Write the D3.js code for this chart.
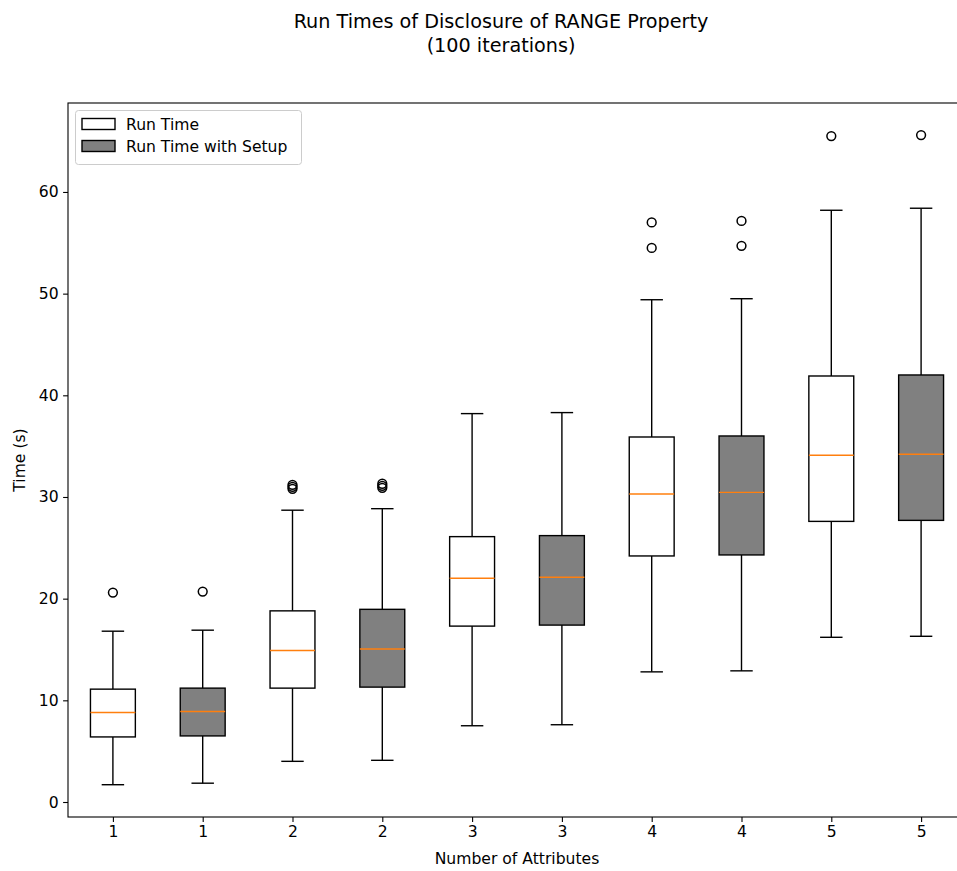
<!DOCTYPE html>
<html>
<head>
<meta charset="utf-8">
<script src="https://cdn.jsdelivr.net/npm/d3@7"></script>
<style>
  html, body { margin: 0; padding: 0; background: #fff; }
  svg { display: block; font-family: "DejaVu Sans", sans-serif; }
</style>
</head>
<body>
<svg id="chart" width="957" height="871"></svg>
<script>
// ---- data ----
const tickLabels = ["1", "1", "2", "2", "3", "3", "4", "4", "5", "5"];
const attributes = [1, 2, 3, 4, 5];

// Run Time (white boxes)
const rtLow      = [1.7, 4.0, 7.5, 12.8, 16.2];
const rtQ1       = [6.4, 11.2, 17.3, 24.2, 27.6];
const rtMedian   = [8.8, 14.9, 22.0, 30.3, 34.1];
const rtQ3       = [11.1, 18.8, 26.1, 35.9, 41.9];
const rtHigh     = [16.8, 28.7, 38.2, 49.4, 58.2];
const rtOutliers = [[20.6], [30.8, 31.0, 31.2], [], [54.5, 57.0], [65.5]];

// Run Time with Setup (gray boxes)
const suLow      = [1.85, 4.1, 7.6, 12.9, 16.3];
const suQ1       = [6.5, 11.3, 17.4, 24.3, 27.7];
const suMedian   = [8.9, 15.05, 22.1, 30.45, 34.2];
const suQ3       = [11.2, 18.95, 26.2, 36.0, 42.0];
const suHigh     = [16.9, 28.85, 38.3, 49.5, 58.4];
const suOutliers = [[20.7], [30.9, 31.1, 31.3], [], [54.7, 57.15], [65.6]];

const yTicks = [0, 10, 20, 30, 40, 50, 60];
const seriesNames = ["Run Time", "Run Time with Setup"];
const seriesFill = ["#ffffff", "#808080"];

// ---- build boxes ----
const boxes = [];
attributes.forEach((a, i) => {
  boxes.push({pos: 2 * i + 1, s: 0, low: rtLow[i], q1: rtQ1[i], med: rtMedian[i], q3: rtQ3[i], high: rtHigh[i], out: rtOutliers[i]});
  boxes.push({pos: 2 * i + 2, s: 1, low: suLow[i], q1: suQ1[i], med: suMedian[i], q3: suQ3[i], high: suHigh[i], out: suOutliers[i]});
});

// ---- layout ----
const pL = 68, pR = 966, pT = 103, pB = 817;
const svg = d3.select("#chart");

const x = d3.scaleLinear().domain([0.5, 10.5]).range([pL, pR]);
const y = d3.scaleLinear().domain([-1.475, 68.75]).range([pB, pT]);

const lw = 1.4;
const fs = "15.6px";
const boxW = x(1.25) - x(0.75);
const capW = x(1.125) - x(0.875);

// title
const title = svg.append("text").attr("x", 501).attr("text-anchor", "middle")
  .attr("font-size", "19.2px").attr("fill", "#000");
title.append("tspan").attr("x", 501).attr("y", 28).text("Run Times of Disclosure of RANGE Property");
title.append("tspan").attr("x", 501).attr("y", 52).text("(100 iterations)");

// boxes
const g = svg.append("g");
boxes.forEach(b => {
  const cx = x(b.pos);
  g.append("line").attr("x1", cx).attr("x2", cx).attr("y1", y(b.q1)).attr("y2", y(b.low))
    .attr("stroke", "#000").attr("stroke-width", lw);
  g.append("line").attr("x1", cx).attr("x2", cx).attr("y1", y(b.q3)).attr("y2", y(b.high))
    .attr("stroke", "#000").attr("stroke-width", lw);
  [b.low, b.high].forEach(v => {
    g.append("line").attr("x1", cx - capW / 2).attr("x2", cx + capW / 2).attr("y1", y(v)).attr("y2", y(v))
      .attr("stroke", "#000").attr("stroke-width", lw);
  });
  g.append("rect").attr("x", cx - boxW / 2).attr("width", boxW)
    .attr("y", y(b.q3)).attr("height", y(b.q1) - y(b.q3))
    .attr("fill", seriesFill[b.s]).attr("stroke", "#000").attr("stroke-width", lw);
  g.append("line").attr("x1", cx - boxW / 2).attr("x2", cx + boxW / 2).attr("y1", y(b.med)).attr("y2", y(b.med))
    .attr("stroke", "#ff7f0e").attr("stroke-width", lw);
  b.out.forEach(v => {
    g.append("circle").attr("cx", cx).attr("cy", y(v)).attr("r", 4.4)
      .attr("fill", "none").attr("stroke", "#000").attr("stroke-width", 1.5);
  });
});

// axes
const xAxis = d3.axisBottom(x).tickValues(d3.range(1, 11)).tickFormat((d, i) => tickLabels[i])
  .tickSize(4.9).tickPadding(4.5);
const yAxis = d3.axisLeft(y).tickValues(yTicks).tickSize(4.9).tickPadding(4.5);

const gx = svg.append("g").attr("transform", `translate(0,${pB})`).call(xAxis);
const gy = svg.append("g").attr("transform", `translate(${pL},0)`).call(yAxis);
[gx, gy].forEach(a => {
  a.select(".domain").remove();
  a.selectAll(".tick line").attr("stroke", "#000").attr("stroke-width", 1.1);
  a.selectAll(".tick text").attr("font-size", fs).attr("fill", "#000")
    .attr("font-family", "DejaVu Sans, sans-serif");
});

// spines
svg.append("rect").attr("x", pL).attr("y", pT).attr("width", pR - pL).attr("height", pB - pT)
  .attr("fill", "none").attr("stroke", "#000").attr("stroke-width", 1.1);

// axis labels
svg.append("text").attr("x", (pL + pR) / 2).attr("y", 864).attr("text-anchor", "middle")
  .attr("font-size", fs).attr("fill", "#000").text("Number of Attributes");
svg.append("text").attr("transform", `translate(25,${(pT + pB) / 2}) rotate(-90)`)
  .attr("text-anchor", "middle").attr("font-size", fs).attr("fill", "#000").text("Time (s)");

// legend
const lg = svg.append("g");
lg.append("rect").attr("x", 75.5).attr("y", 110.5).attr("width", 226).attr("height", 54).attr("rx", 3)
  .attr("fill", "#fff").attr("fill-opacity", 0.8).attr("stroke", "#cccccc").attr("stroke-width", 1);
seriesNames.forEach((name, i) => {
  const yy = 118.5 + i * 22;
  lg.append("rect").attr("x", 82).attr("y", yy).attr("width", 33).attr("height", 11)
    .attr("fill", seriesFill[i]).attr("stroke", "#000").attr("stroke-width", 1.4);
  lg.append("text").attr("x", 126).attr("y", yy + 11).attr("font-size", fs).attr("fill", "#000").text(name);
});
</script>
</body>
</html>
